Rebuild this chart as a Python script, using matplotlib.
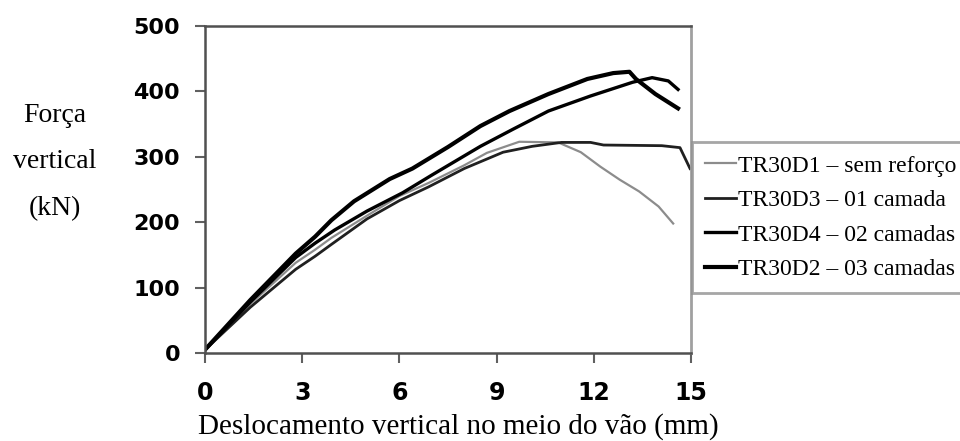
import matplotlib.pyplot as plt

# curves (deslocamento mm, forca kN)
x_d1 = [0, 1.4, 2.8, 3.4, 3.9, 5.0, 6.0, 6.9, 8.0, 8.7, 9.7, 10.9, 11.6, 12.2, 12.8, 13.4, 14.0, 14.45]
y_d1 = [5, 75, 138, 158, 176, 210, 240, 260, 287, 306, 323, 322, 307, 285, 265, 247, 224, 198]

x_d3 = [0, 1.4, 2.8, 3.4, 3.9, 5.0, 6.0, 6.9, 8.0, 9.2, 10.1, 11.0, 11.9, 12.3, 14.1, 14.66, 14.97]
y_d3 = [5, 70, 128, 148, 166, 205, 233, 254, 282, 307, 316, 322, 322, 318, 317, 314, 282]

x_d4 = [0, 1.4, 2.8, 3.4, 4.0, 5.0, 6.1, 7.0, 8.5, 9.5, 10.6, 11.9, 13.2, 13.8, 14.3, 14.6]
y_d4 = [5, 78, 146, 168, 188, 217, 245, 272, 316, 342, 370, 393, 414, 421, 416, 403]

x_d2 = [0, 1.4, 2.8, 3.4, 3.9, 4.6, 5.7, 6.4, 7.5, 8.5, 9.4, 10.6, 11.8, 12.6, 13.1, 13.3, 13.9, 14.6]
y_d2 = [5, 81, 152, 178, 203, 232, 266, 282, 315, 347, 370, 396, 419, 428, 430, 419, 396, 374]

labels = ["TR30D1 \u2013 sem refor\u00e7o", "TR30D3 \u2013 01 camada",
          "TR30D4 \u2013 02 camadas", "TR30D2 \u2013 03 camadas"]
xticks = [0, 3, 6, 9, 12, 15]
yticks = [0, 100, 200, 300, 400, 500]

fig = plt.figure(figsize=(9.6, 4.41), dpi=100)
ax = fig.add_axes([205/960, 1-353/441, 486/960, 327/441])

ax.plot(x_d1, y_d1, color='#8c8c8c', lw=1.6, label=labels[0])
ax.plot(x_d3, y_d3, color='#202020', lw=2.0, label=labels[1])
ax.plot(x_d4, y_d4, color='#000000', lw=2.4, label=labels[2])
ax.plot(x_d2, y_d2, color='#000000', lw=3.0, label=labels[3])

ax.set_xlim(0, 15)
ax.set_ylim(0, 500)
ax.set_xticks(xticks)
ax.set_yticks(yticks)
for s in ['left', 'bottom', 'top']:
    ax.spines[s].set_color('#505050')
    ax.spines[s].set_linewidth(1.8)
ax.spines['right'].set_color('#a0a0a0')
ax.spines['right'].set_linewidth(2)
ax.tick_params(direction='out', length=7, width=1.5, color='#606060')
ax.tick_params(axis='x', pad=13)
ax.tick_params(axis='y', pad=11)
for t in ax.get_xticklabels():
    t.set_fontfamily('DejaVu Sans')
    t.set_fontweight('bold')
    t.set_fontsize(17)
for t in ax.get_yticklabels():
    t.set_fontfamily('DejaVu Sans')
    t.set_fontweight('bold')
    t.set_fontsize(16)

leg = fig.legend(loc='upper left', bbox_to_anchor=(692/960, 1-142/441),
                 prop={'family': 'Liberation Serif', 'size': 17},
                 frameon=True, fancybox=False, handlelength=1.3,
                 handletextpad=0.1, labelspacing=0.55, borderpad=0.55,
                 borderaxespad=0)
leg.get_frame().set_edgecolor('#909090')
leg.get_frame().set_linewidth(2)

fig.text(55/960, 1-162/441, "For\u00e7a\nvertical\n(kN)", ha='center', va='center',
         family='Liberation Serif', fontsize=20, linespacing=2.15)
fig.text(458/960, 1-434/441, "Deslocamento vertical no meio do v\u00e3o (mm)",
         ha='center', va='baseline', family='Liberation Serif', fontsize=21)

fig.savefig('out.png', dpi=100)
